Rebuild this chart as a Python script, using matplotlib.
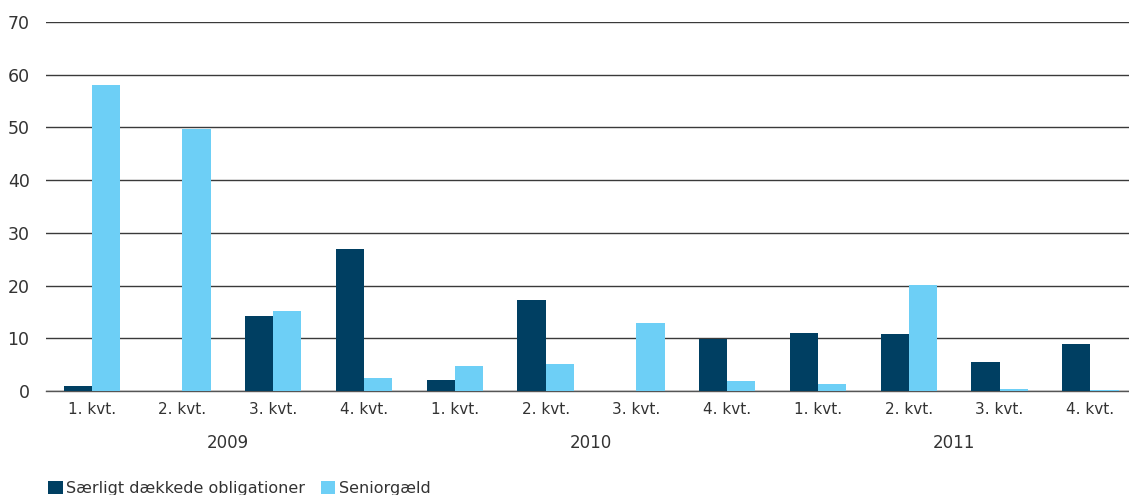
import numpy as np
import matplotlib.pyplot as plt

quarters = ['1. kvt.', '2. kvt.', '3. kvt.', '4. kvt.'] * 3
years = ['2009', '2010', '2011']
saerligt = [1.0, 0.0, 14.2, 27.0, 2.1, 17.3, 0.0, 9.9, 11.0, 10.8, 5.5, 8.9]
senior = [58.0, 49.7, 15.2, 2.5, 4.8, 5.1, 12.9, 1.9, 1.3, 20.1, 0.4, 0.2]

dark = '#003f62'
light = '#6dcff6'
txt = '#333333'

fig = plt.figure(figsize=(11.29, 4.95), dpi=100)
ax = fig.add_axes([0.041, 0.21, 0.965, 0.746])

x = np.arange(len(quarters))
w = 0.31
ax.bar(x - w / 2, saerligt, width=w, color=dark, label='Særligt dækkede obligationer', zorder=3)
ax.bar(x + w / 2, senior, width=w, color=light, label='Seniorgæld', zorder=3)

ax.set_xlim(-0.5, 11.5)
ax.set_ylim(0, 70)
ax.set_yticks(range(0, 71, 10))
ax.yaxis.grid(True, color='#3a3a3a', linewidth=1.0, zorder=0)
ax.set_axisbelow(True)
for s in ['top', 'right', 'left']:
    ax.spines[s].set_visible(False)
ax.spines['bottom'].set_color('#555555')
ax.spines['bottom'].set_linewidth(1.0)
ax.tick_params(axis='y', length=0, pad=12, labelsize=12.5, labelcolor=txt)
ax.tick_params(axis='x', length=0, pad=8, labelsize=11, labelcolor=txt)
ax.set_xticks(x)
ax.set_xticklabels(quarters)

for i, yr in enumerate(years):
    ax.text(i * 4 + 1.5, -9.9, yr, ha='center', va='center', fontsize=12, color=txt)

ax.legend(loc='lower left', bbox_to_anchor=(0.002, -0.285), ncol=2, frameon=False,
          fontsize=11.5, handlelength=0.9, handleheight=0.9, handletextpad=0.2,
          columnspacing=1.0, borderaxespad=0, borderpad=0,
          labelcolor=txt)

fig.savefig('out.png', dpi=100)
